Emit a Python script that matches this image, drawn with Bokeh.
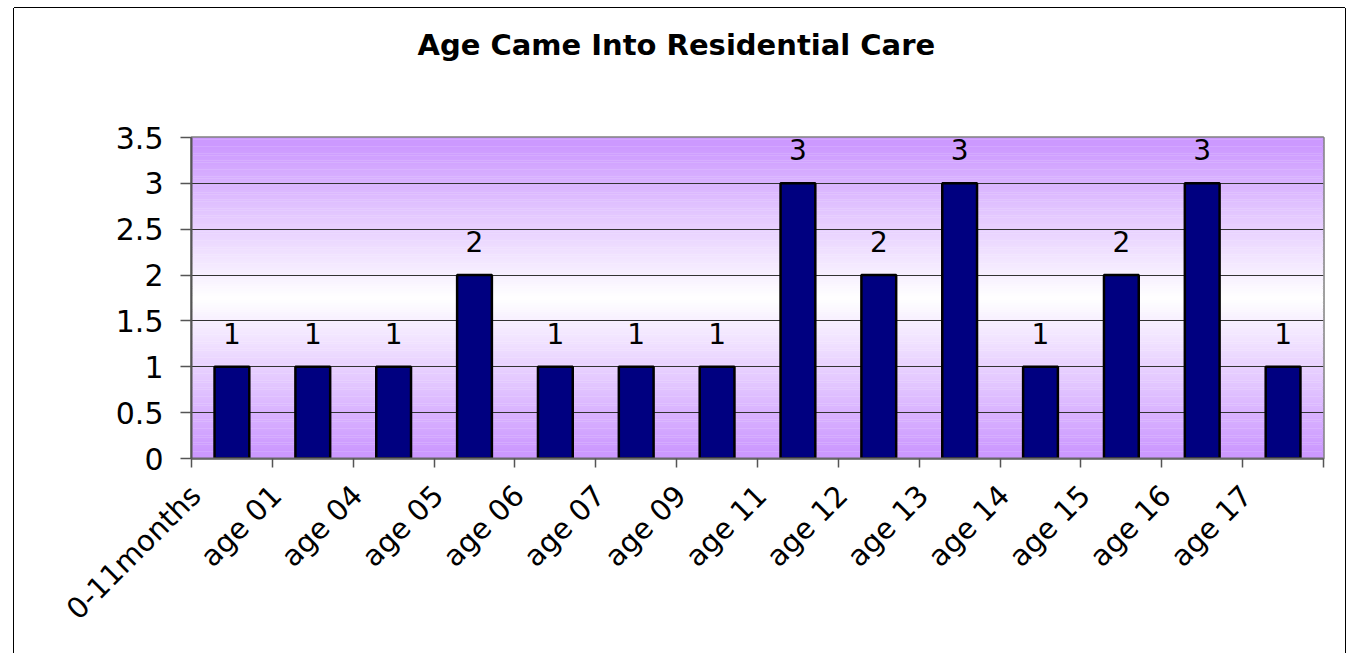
import math
from bokeh.plotting import figure
from bokeh.models import (Range1d, FixedTicker, CustomJSTickFormatter, LabelSet,
                          ColumnDataSource, LinearAxis)
from bokeh.core.properties import value
from bokeh.embed import file_html
from bokeh.resources import INLINE

# ---- data ----
title_text = "Age Came Into Residential Care"
categories = ["0-11months", "age 01", "age 04", "age 05", "age 06", "age 07",
              "age 09", "age 11", "age 12", "age 13", "age 14", "age 15",
              "age 16", "age 17"]
counts = [1, 1, 1, 2, 1, 1, 1, 3, 2, 3, 1, 2, 3, 1]
y_ticks = [0, 0.5, 1, 1.5, 2, 2.5, 3, 3.5]
y_max = 3.5

FONT = "DejaVu Sans"
n = len(categories)

p = figure(width=1331, height=645, output_backend="svg", toolbar_location=None,
           x_range=Range1d(0, n), y_range=Range1d(0, y_max),
           min_border_left=177, min_border_right=22,
           min_border_top=129, min_border_bottom=195)
p.styles = {"margin-left": "14px", "margin-top": "8px",
            "box-shadow": "-1px 0 0 0 #000, 1px 0 0 0 #000, 0 -1px 0 0 #000"}
p.background_fill_color = "white"
p.border_fill_color = "white"
p.outline_line_color = "#808080"
p.outline_line_width = 2.5

xa = p.below[0]
ya = p.left[0]

# spacer between title and plot area (invisible axis above)
spacer = LinearAxis(ticker=FixedTicker(ticks=[0]), axis_line_color=None,
                    major_tick_line_color=None, minor_tick_line_color=None,
                    major_tick_out=71, major_tick_in=0, major_label_standoff=0,
                    formatter=CustomJSTickFormatter(code="return ''"),
                    major_label_text_font_size="1px")
p.add_layout(spacer, "above")

# title
p.title.text = title_text
p.title.align = "left"
p.title.offset = 226
p.title.text_font = FONT
p.title.text_font_size = "29px"
p.title.text_font_style = "bold"
p.title.text_color = "black"

# ---- gradient background (purple -> white -> purple) ----
bands = 140
g_bottom, g_top, g_col = [], [], []
top_c = (204, 153, 255)
for k in range(bands):
    b = y_max * k / bands
    t = y_max * (k + 1) / bands
    mid = (b + t) / 2
    d = abs(mid - y_max / 2) / (y_max / 2)
    d = min(1.0, d * 1.05)
    r = round(255 + (top_c[0] - 255) * d)
    g = round(255 + (top_c[1] - 255) * d)
    g_bottom.append(b)
    g_top.append(min(y_max, t + 0.003))
    g_col.append("#%02x%02x%02x" % (r, g, 255))
p.quad(left=0, right=n, bottom=g_bottom, top=g_top, fill_color=g_col,
       line_color=None, level="image")

# ---- bars ----
xs = [i + 0.5 for i in range(n)]
src = ColumnDataSource(dict(x=xs, top=counts, lab=[str(c) for c in counts]))
p.vbar(x="x", top="top", width=0.43, source=src, fill_color="#000080",
       line_color="black", line_width=2.5)

# data labels
p.add_layout(LabelSet(x="x", y="top", text="lab", source=src, y_offset=23,
                      text_align="center", text_baseline="alphabetic",
                      text_font=value(FONT), text_font_size="28px",
                      text_color="black"))

# ---- x axis: tick marks at category boundaries, rotated labels ----
label_shift = 0.05
xa.ticker = FixedTicker(ticks=[i + label_shift for i in range(n)],
                        minor_ticks=list(range(n + 1)))
xa.formatter = CustomJSTickFormatter(args=dict(labels=categories),
                                     code="return labels[Math.floor(tick)] || ''")
xa.major_label_orientation = math.pi / 4
xa.major_label_text_font = FONT
xa.major_label_text_font_size = "29px"
xa.major_label_text_color = "black"
xa.major_label_standoff = 23
xa.major_tick_in = 0
xa.major_tick_out = 9
xa.major_tick_line_color = None
xa.minor_tick_in = 0
xa.minor_tick_out = 9
xa.minor_tick_line_color = "#555555"
xa.minor_tick_line_width = 1.5
xa.axis_line_color = "#666666"
xa.axis_line_width = 2

ya.ticker = FixedTicker(ticks=y_ticks)
ya.formatter = CustomJSTickFormatter(code="return String(tick)")
ya.major_label_text_font = FONT
ya.major_label_text_font_size = "30px"
ya.major_label_text_color = "black"
ya.major_label_standoff = 17
ya.major_tick_in = 0
ya.major_tick_out = 11
ya.minor_tick_line_color = None
ya.axis_line_color = "#555555"
ya.axis_line_width = 2
ya.major_tick_line_color = "#555555"
ya.major_tick_line_width = 1.5

p.xgrid.grid_line_color = None
p.ygrid.ticker = FixedTicker(ticks=y_ticks)
p.ygrid.grid_line_color = "#333333"
p.ygrid.grid_line_width = 1

open("out.html", "w").write(file_html(p, INLINE))
